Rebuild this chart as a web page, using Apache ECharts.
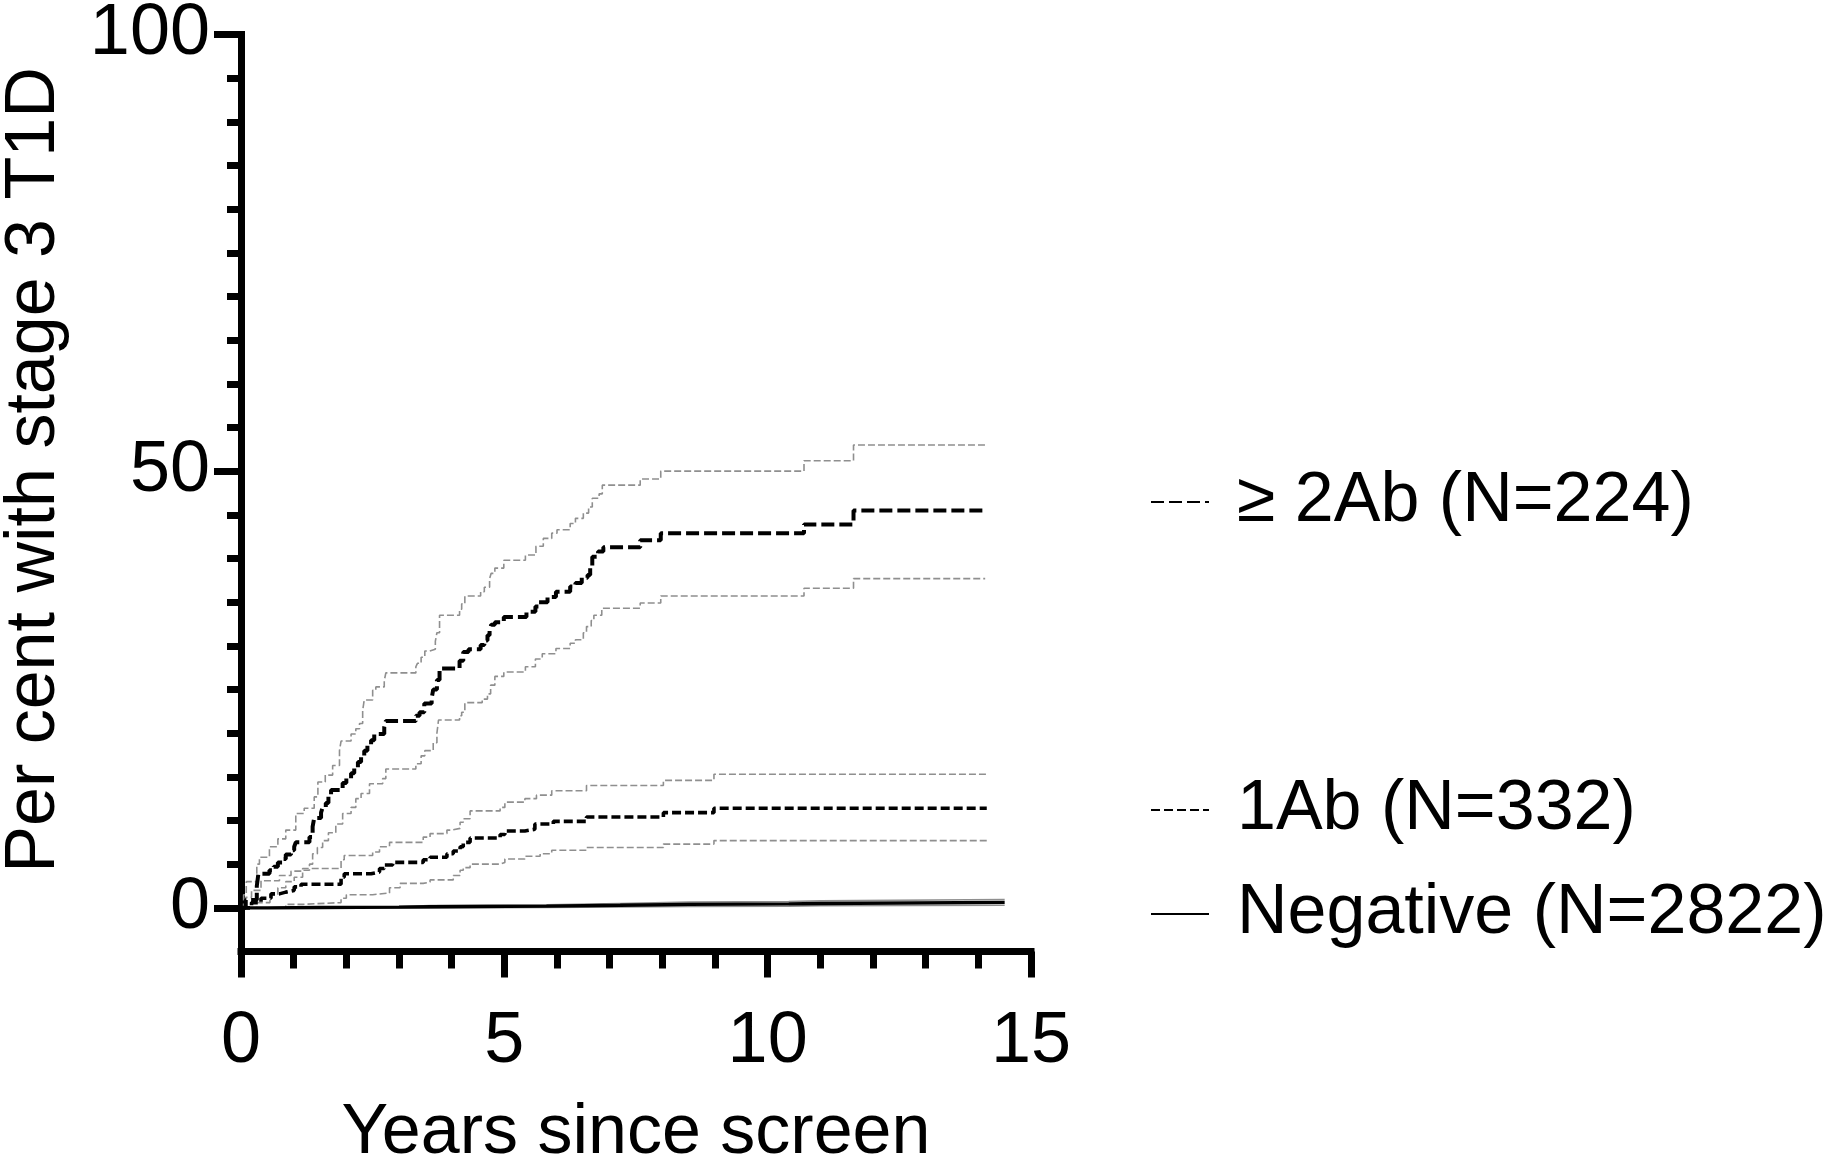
<!DOCTYPE html>
<html><head><meta charset="utf-8">
<script src="https://cdn.jsdelivr.net/npm/echarts@6/dist/echarts.min.js"></script>
<style>html,body{margin:0;padding:0;background:#fff}#chart{width:1843px;height:1158px}</style>
</head><body><div id="chart"></div>
<script>
const FONT = "'Liberation Sans', Arial, Helvetica, sans-serif";

const groupNames = ['\u2265 2Ab (N=224)', '1Ab (N=332)', 'Negative (N=2822)'];
const xTitle = 'Years since screen';
const yTitle = 'Per cent with stage 3 T1D';
const yMajorTicks = [0, 50, 100];
const yMinorTicks = [5, 10, 15, 20, 25, 30, 35, 40, 45, 55, 60, 65, 70, 75, 80, 85, 90, 95];

// [years, per cent] step points
const ab2Est = [[0,0],[0.09,0.9],[0.30,2.5],[0.33,3.9],[0.54,4.3],[0.62,4.7],[0.70,5.2],[0.79,5.6],[0.85,6.1],[0.95,6.6],[1.01,7.0],[1.04,7.5],[1.30,8.1],[1.36,9.3],[1.39,10.3],[1.52,10.9],[1.55,11.5],[1.61,12.0],[1.66,12.8],[1.71,13.5],[1.93,14.3],[2.00,14.8],[2.09,15.4],[2.15,16.0],[2.22,16.7],[2.28,17.3],[2.34,18.0],[2.40,18.6],[2.47,19.2],[2.53,19.9],[2.72,20.7],[2.75,21.4],[3.32,22.0],[3.39,22.4],[3.48,23.4],[3.62,24.0],[3.65,25.0],[3.72,26.1],[3.77,27.4],[4.15,28.3],[4.22,29.3],[4.32,29.6],[4.55,30.1],[4.62,30.6],[4.68,31.2],[4.72,31.8],[4.75,32.4],[4.82,32.7],[4.99,33.3],[5.42,33.9],[5.59,34.5],[5.65,35.0],[5.82,35.6],[5.98,36.2],[6.25,36.8],[6.35,37.2],[6.47,37.8],[6.58,38.1],[6.63,39.0],[6.67,40.2],[6.78,40.8],[6.88,41.3],[7.58,42.1],[7.97,42.9],[10.69,43.9],[11.63,45.5],[14.13,45.5]];
const ab2Upper = [[0,0],[0.05,1.5],[0.10,3.0],[0.30,5.0],[0.35,5.8],[0.54,7.0],[0.70,7.9],[0.85,8.9],[1.04,10.8],[1.20,11.4],[1.39,12.7],[1.46,14.4],[1.60,15.2],[1.74,16.3],[1.87,18.0],[1.90,19.1],[2.09,19.9],[2.18,20.5],[2.25,21.1],[2.31,22.6],[2.34,23.8],[2.50,24.9],[2.56,25.3],[2.72,26.0],[2.75,26.9],[3.32,27.6],[3.35,28.0],[3.42,28.7],[3.49,29.4],[3.58,29.6],[3.69,30.5],[3.72,31.5],[3.77,33.5],[4.15,34.2],[4.19,34.8],[4.25,35.7],[4.55,36.2],[4.62,36.7],[4.72,37.7],[4.75,38.3],[4.82,38.9],[4.99,39.8],[5.40,40.4],[5.60,41.4],[5.74,42.3],[5.90,42.9],[6.00,43.3],[6.25,44.0],[6.35,44.6],[6.50,45.2],[6.60,45.9],[6.67,46.9],[6.80,47.4],[6.86,48.4],[7.58,49.1],[7.97,50.0],[10.69,51.2],[11.63,53.0],[14.13,53.0]];
const ab2Lower = [[0,0],[0.30,0.6],[0.55,1.5],[0.70,2.3],[0.85,3.0],[1.01,3.5],[1.17,4.3],[1.30,5.0],[1.36,6.2],[1.45,6.9],[1.55,7.7],[1.66,8.6],[1.80,9.6],[1.93,10.8],[2.09,11.5],[2.18,12.5],[2.28,13.1],[2.44,14.2],[2.69,14.8],[2.75,15.9],[3.32,16.5],[3.42,17.4],[3.49,18.0],[3.65,18.9],[3.72,20.0],[3.75,21.5],[4.15,22.0],[4.19,22.4],[4.25,23.5],[4.58,23.9],[4.68,24.5],[4.74,25.5],[4.82,26.5],[4.99,27.0],[5.40,27.6],[5.59,28.5],[5.72,29.1],[5.98,29.7],[6.25,30.3],[6.35,30.7],[6.50,31.5],[6.56,32.2],[6.65,32.9],[6.70,33.5],[6.85,34.3],[7.58,34.9],[7.97,35.7],[10.69,36.6],[11.63,37.7],[14.13,37.7]];

const ab1Est = [[0,0],[0.20,0.6],[0.38,1.1],[0.57,1.6],[0.73,1.8],[0.85,2.0],[1.01,2.4],[1.14,2.7],[1.90,3.5],[1.96,3.9],[2.47,4.1],[2.63,4.5],[2.72,4.9],[2.88,5.2],[3.46,5.5],[3.59,5.8],[3.91,6.2],[4.03,6.5],[4.16,7.0],[4.22,7.5],[4.35,8.0],[4.92,8.4],[5.01,8.8],[5.39,9.0],[5.58,9.6],[5.93,9.9],[6.56,10.4],[8.02,10.9],[8.98,11.4],[14.16,11.4]];
const ab1Upper = [[0,0],[0.09,1.2],[0.20,2.0],[0.38,3.1],[0.73,3.7],[0.95,4.2],[1.17,4.5],[1.90,5.5],[1.96,6.0],[2.50,6.4],[2.63,7.0],[2.82,7.5],[3.46,8.1],[3.59,8.5],[3.91,8.9],[4.00,9.1],[4.16,9.8],[4.22,10.2],[4.35,11.1],[4.92,11.5],[5.01,12.1],[5.39,12.5],[5.61,12.9],[5.90,13.4],[6.56,14.0],[8.02,14.6],[8.98,15.3],[14.20,15.3]];
const ab1Lower = [[0,0],[0.85,0.4],[1.17,0.6],[1.90,1.1],[2.00,1.5],[2.50,1.7],[2.82,2.3],[3.02,2.8],[3.46,2.95],[3.59,3.2],[4.03,3.7],[4.16,4.3],[4.22,4.6],[4.35,5.0],[4.92,5.2],[5.01,5.6],[5.39,5.9],[5.68,6.2],[5.90,6.6],[6.56,6.9],[8.02,7.3],[8.98,7.7],[14.20,7.7]];

const negEst = [[0,0],[0.5,0.04],[1.5,0.08],[3.0,0.12],[3.6,0.2],[5.8,0.3],[7.2,0.4],[8.5,0.45],[10.4,0.5],[11.0,0.62],[14.5,0.62]];
const negUpper = [[0,0],[0.5,0.1],[1.5,0.15],[3.0,0.25],[3.6,0.35],[5.8,0.5],[7.2,0.65],[8.5,0.72],[10.4,0.8],[11.0,0.95],[14.5,0.95]];
const negLower = [[0,0],[3.6,0.05],[5.8,0.1],[7.2,0.16],[8.5,0.2],[10.4,0.25],[11.0,0.3],[14.5,0.3]];

const GREY = '#8f8f8f';
function ciSeries(name, data, dash) {
  return { name: name, type: 'line', step: 'end', data: data, symbol: 'none', showSymbol: false,
    z: 2, lineStyle: { color: GREY, width: 1.6, type: dash } };
}
function estSeries(name, data, width, dash) {
  return { name: name, type: 'line', step: 'end', data: data, symbol: 'none', showSymbol: false,
    z: 3, itemStyle: { color: '#000' }, lineStyle: { color: '#000', width: width, type: dash } };
}

const legendBase = {
  orient: 'horizontal', padding: 0, itemWidth: 58, itemHeight: 14, selectedMode: false,
  itemStyle: { opacity: 0 },
  textStyle: { fontFamily: FONT, fontSize: 70, color: '#000', padding: [0, 0, 0, 23] },
  lineStyle: { width: 2 }
};

const chart = echarts.init(document.getElementById('chart'), null, { renderer: 'canvas' });
chart.setOption({
  animation: false,
  backgroundColor: '#fff',
  textStyle: { fontFamily: FONT },
  grid: { left: 241, top: 34.5, width: 790, height: 917, containLabel: false, outerBoundsMode: 'none' },
  legend: [
    Object.assign({}, legendBase, { data: [groupNames[0]], left: 1150, top: 467 }),
    Object.assign({}, legendBase, { data: [groupNames[1]], left: 1150, top: 775 }),
    Object.assign({}, legendBase, { data: [groupNames[2]], left: 1150, top: 879 })
  ],
  xAxis: {
    type: 'value', min: 0, max: 15, interval: 5,
    name: xTitle, nameLocation: 'middle', nameGap: 147,
    nameTextStyle: { fontFamily: FONT, fontSize: 70, color: '#000' },
    axisLine: { show: true, onZero: false, lineStyle: { color: '#000', width: 7, cap: 'square' } },
    axisTick: { show: true, length: 26, lineStyle: { color: '#000', width: 7 } },
    minorTick: { show: true, splitNumber: 5, length: 17, lineStyle: { color: '#000', width: 7 } },
    axisLabel: { fontFamily: FONT, fontSize: 72, color: '#000', margin: 55 },
    splitLine: { show: false }, minorSplitLine: { show: false }
  },
  yAxis: [
    {
      type: 'value', min: -5, max: 100,
      name: yTitle, nameLocation: 'middle', nameGap: 171,
      nameTextStyle: { fontFamily: FONT, fontSize: 70, color: '#000', padding: [0, 0, 0, 46] },
      axisLine: { show: true, onZero: false, lineStyle: { color: '#000', width: 7, cap: 'square' } },
      axisTick: { show: true, length: 27, customValues: yMajorTicks, lineStyle: { color: '#000', width: 7 } },
      axisLabel: { fontFamily: FONT, fontSize: 72, color: '#000', margin: 31, customValues: yMajorTicks },
      splitLine: { show: false }
    },
    {
      type: 'value', min: -5, max: 100, position: 'left',
      axisLine: { show: false },
      axisTick: { show: true, length: 14, customValues: yMinorTicks, lineStyle: { color: '#000', width: 7 } },
      axisLabel: { show: false },
      splitLine: { show: false }
    }
  ],
  series: [
    ciSeries('ab2 upper', ab2Upper, [7, 3]),
    ciSeries('ab2 lower', ab2Lower, [7, 3]),
    ciSeries('ab1 upper', ab1Upper, [7, 3]),
    ciSeries('ab1 lower', ab1Lower, [7, 3]),
    ciSeries('neg upper', negUpper, 'solid'),
    ciSeries('neg lower', negLower, 'solid'),
    estSeries(groupNames[0], ab2Est, 4, [13, 5]),
    estSeries(groupNames[1], ab1Est, 3.6, [9, 4]),
    estSeries(groupNames[2], negEst, 3.4, 'solid')
  ]
});
</script>
</body></html>
